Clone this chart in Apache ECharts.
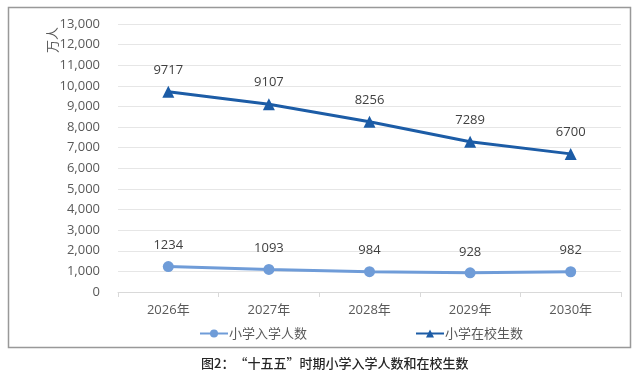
<!DOCTYPE html>
<html>
<head>
<meta charset="utf-8">
<script src="https://cdn.jsdelivr.net/npm/echarts@6/dist/echarts.min.js"></script>
<style>
html,body{margin:0;padding:0;background:#fff;}
#c{width:640px;height:372px;}
</style>
</head>
<body>
<div id="c"></div>
<script>
const categories = ['2026年', '2027年', '2028年', '2029年', '2030年'];
const enrollment = [1234, 1093, 984, 928, 982];
const inSchool = [9717, 9107, 8256, 7289, 6700];
const seriesNames = ['小学入学人数', '小学在校生数'];
const yUnit = '万人';
const caption = '图2：“十五五”时期小学入学人数和在校生数';

const FONT = '"Open Sans", "Noto Sans CJK SC", sans-serif';
const chart = echarts.init(document.getElementById('c'), null, {renderer: 'canvas'});
chart.setOption({
  animation: false,
  backgroundColor: '#fff',
  textStyle: {fontFamily: FONT},
  title: {
    text: caption,
    left: 196, top: 352,
    textStyle: {fontSize: 13, fontWeight: 500, color: '#262626', fontFamily: '"Noto Sans CJK SC", sans-serif'}
  },
  graphic: [
    {type: 'rect', shape: {x: 8.5, y: 7.5, width: 622, height: 340}, style: {fill: 'none', stroke: '#999', lineWidth: 1.5}, silent: true, z: -1},
    {type: 'text', x: 52, y: 40, rotation: Math.PI / 2,
     style: {text: yUnit, fontSize: 13, fill: '#595959', align: 'center', verticalAlign: 'middle', fontFamily: '"Noto Sans CJK SC", sans-serif'}}
  ],
  legend: {
    left: 194, top: 322,
    itemWidth: 28, itemHeight: 10, itemGap: 108,
    textStyle: {fontSize: 13, color: '#595959', padding: [0, 0, 0, -4], fontFamily: '"Noto Sans CJK SC", sans-serif'},
    data: seriesNames
  },
  grid: {left: 118, right: 19, top: 24, bottom: 80, containLabel: false},
  xAxis: {
    type: 'category',
    data: categories,
    boundaryGap: true,
    axisLine: {lineStyle: {color: '#d9d9d9', width: 1}},
    axisTick: {show: true, alignWithLabel: false, length: 5, lineStyle: {color: '#d9d9d9'}},
    axisLabel: {fontSize: 13, color: '#595959', margin: 12}
  },
  yAxis: {
    type: 'value',
    min: 0, max: 13000, interval: 1000,
    axisLine: {show: false},
    axisTick: {show: false},
    axisLabel: {fontSize: 13, color: '#595959', margin: 18,
      formatter: v => v.toLocaleString('en-US')},
    splitLine: {lineStyle: {color: '#e6e6e6', width: 1}}
  },
  series: [
    {
      name: seriesNames[0], type: 'line', data: enrollment,
      symbol: 'circle', symbolSize: 11,
      lineStyle: {color: '#6f9cd8', width: 3},
      itemStyle: {color: '#6f9cd8'},
      label: {show: true, position: 'top', distance: 9, fontSize: 13, color: '#404040'}
    },
    {
      name: seriesNames[1], type: 'line', data: inSchool,
      symbol: 'triangle', symbolSize: 12,
      lineStyle: {color: '#1c5ca6', width: 3},
      itemStyle: {color: '#1c5ca6'},
      label: {show: true, position: 'top', distance: 9, fontSize: 13, color: '#404040'}
    }
  ]
});
</script>
</body>
</html>
